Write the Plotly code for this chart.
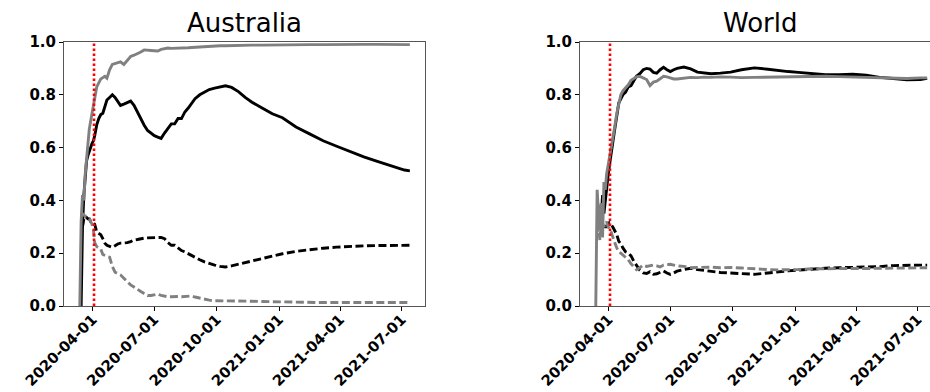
import pandas as pd
import plotly.graph_objects as go

# ---------------- data (days offset from 2020-04-01) ----------------
base_date = "2020-04-01"
marker_date = "2020-04-03"
tick_dates = ["2020-04-01", "2020-07-01", "2020-10-01", "2021-01-01", "2021-04-01", "2021-07-01"]
y_ticks = [0.0, 0.2, 0.4, 0.6, 0.8, 1.0]
titles = ["Australia", "World"]

au_day = [-19, -17, -15, -13, -11, -9, -7, -5, -3, -1, 1, 3, 6, 9, 12, 15, 18, 21, 25, 29,
          33, 37, 41, 46, 51, 56, 61, 66, 71, 76, 81, 86, 91, 96, 101, 106, 111, 116, 121, 126,
          131, 136, 141, 146, 151, 158, 165, 172, 180, 188, 196, 205, 215, 225, 235, 250, 265,
          280, 300, 320, 340, 360, 380, 400, 420, 440, 460, 468]
au_black = [None, 0.0, 0.30, 0.42, 0.50, 0.55, 0.57, 0.59, 0.60, 0.615, 0.625, 0.645, 0.686, 0.71, 0.725,
            0.73, 0.76, 0.78, 0.79, 0.80, 0.79, 0.775, 0.76, 0.765, 0.772, 0.776, 0.76, 0.735, 0.705,
            0.685, 0.665, 0.655, 0.645, 0.64, 0.635, 0.655, 0.675, 0.69, 0.69, 0.71, 0.71, 0.735, 0.75,
            0.77, 0.785, 0.80, 0.81, 0.82, 0.825, 0.83, 0.834, 0.828, 0.812, 0.79, 0.772, 0.75, 0.728,
            0.713, 0.678, 0.652, 0.626, 0.605, 0.584, 0.565, 0.548, 0.532, 0.515, 0.512]
au_gray = [0.0, 0.32, 0.42, 0.40, 0.50, 0.56, 0.63, 0.67, 0.70, 0.73, 0.76, 0.78, 0.83, 0.845, 0.86,
           0.865, 0.87, 0.863, 0.895, 0.915, 0.918, 0.922, 0.925, 0.915, 0.93, 0.945, 0.95, 0.955,
           0.962, 0.97, 0.97, 0.968, 0.967, 0.966, 0.972, 0.975, 0.977, 0.976, 0.976, 0.977, 0.977,
           0.978, 0.978, 0.979, 0.98, 0.981, 0.983, 0.985, 0.986, 0.986, 0.986, 0.987, 0.987, 0.987,
           0.988, 0.988, 0.989, 0.989, 0.99, 0.99, 0.99, 0.991, 0.991, 0.991, 0.991, 0.99, 0.99, 0.99]
au_black_dash = [None, None, 0.30, 0.33, 0.34, 0.335, 0.33, 0.33, 0.32, 0.32, 0.315, 0.31, 0.28, 0.275,
                 0.27, 0.255, 0.238, 0.23, 0.225, 0.222, 0.228, 0.235, 0.238, 0.238, 0.24, 0.244, 0.25,
                 0.252, 0.255, 0.257, 0.258, 0.258, 0.26, 0.26, 0.26, 0.255, 0.24, 0.23, 0.23, 0.22,
                 0.21, 0.205, 0.198, 0.19, 0.183, 0.175, 0.167, 0.16, 0.155, 0.15, 0.148, 0.152, 0.158,
                 0.165, 0.172, 0.18, 0.19, 0.198, 0.207, 0.214, 0.219, 0.223, 0.226, 0.228, 0.229, 0.23,
                 0.23, 0.23]
au_gray_dash = [None, 0.34, 0.35, 0.345, 0.34, 0.34, 0.335, 0.33, 0.32, 0.31, 0.29, 0.24, 0.225, 0.22,
                0.215, 0.195, 0.19, 0.188, 0.185, 0.15, 0.128, 0.122, 0.118, 0.105, 0.092, 0.08, 0.072,
                0.065, 0.055, 0.047, 0.04, 0.04, 0.043, 0.045, 0.04, 0.037, 0.035, 0.035, 0.036, 0.036,
                0.035, 0.036, 0.038, 0.038, 0.034, 0.03, 0.025, 0.022, 0.02, 0.02, 0.02, 0.019, 0.018,
                0.018, 0.018, 0.017, 0.016, 0.016, 0.015, 0.014, 0.013, 0.013, 0.013, 0.013, 0.013,
                0.013, 0.013, 0.013]

wd_day = [-19, -17, -15, -13, -11, -9, -7, -5, -3, -1, 1, 3, 6, 9, 12, 15, 18, 21, 25, 29,
          33, 37, 41, 46, 51, 56, 61, 66, 71, 76, 81, 86, 91, 96, 101, 111, 121, 131, 141, 151,
          165, 180, 196, 215, 235, 250, 265, 280, 300, 320, 340, 360, 380, 400, 420, 440, 460, 470]
wd_black = [None, None, 0.30, 0.38, 0.33, 0.42, 0.35, 0.40, 0.46, 0.49, 0.53, 0.57, 0.62, 0.67, 0.72,
            0.77, 0.785, 0.80, 0.81, 0.83, 0.835, 0.85, 0.87, 0.88, 0.895, 0.90, 0.897, 0.885, 0.882,
            0.895, 0.904, 0.895, 0.888, 0.895, 0.90, 0.905, 0.898, 0.886, 0.882, 0.88, 0.882, 0.886,
            0.895, 0.902, 0.897, 0.892, 0.888, 0.885, 0.88, 0.876, 0.876, 0.878, 0.874, 0.866, 0.862,
            0.857, 0.858, 0.862]
wd_gray = [0.0, 0.44, 0.35, 0.29, 0.39, 0.26, 0.47, 0.44, 0.50, 0.53, 0.55, 0.58, 0.62, 0.68, 0.73,
           0.77, 0.80, 0.815, 0.825, 0.838, 0.855, 0.862, 0.868, 0.87, 0.865, 0.858, 0.835, 0.848,
           0.852, 0.86, 0.87, 0.868, 0.863, 0.86, 0.86, 0.863, 0.866, 0.865, 0.867, 0.866, 0.868,
           0.867, 0.865, 0.866, 0.867, 0.866, 0.868, 0.869, 0.87, 0.87, 0.869, 0.868, 0.867, 0.866,
           0.864, 0.862, 0.864, 0.864]
wd_black_dash = [None, None, 0.30, 0.31, 0.32, 0.32, 0.31, 0.30, 0.30, 0.31, 0.315, 0.31, 0.30, 0.285,
                 0.27, 0.245, 0.235, 0.22, 0.205, 0.20, 0.19, 0.17, 0.155, 0.135, 0.125, 0.123, 0.13,
                 0.12, 0.122, 0.128, 0.133, 0.125, 0.12, 0.125, 0.132, 0.138, 0.143, 0.138, 0.134,
                 0.13, 0.127, 0.125, 0.122, 0.12, 0.125, 0.13, 0.133, 0.136, 0.14, 0.143, 0.145, 0.146,
                 0.147, 0.149, 0.153, 0.155, 0.155, 0.155]
wd_gray_dash = [None, 0.28, 0.30, 0.25, 0.31, 0.315, 0.30, 0.31, 0.32, 0.30, 0.295, 0.285, 0.26, 0.24,
                0.22, 0.205, 0.20, 0.193, 0.185, 0.175, 0.16, 0.148, 0.138, 0.145, 0.155, 0.15, 0.152,
                0.155, 0.152, 0.148, 0.155, 0.157, 0.158, 0.155, 0.152, 0.15, 0.145, 0.146, 0.147,
                0.147, 0.145, 0.146, 0.144, 0.14, 0.138, 0.137, 0.137, 0.138, 0.141, 0.142, 0.142,
                0.142, 0.142, 0.143, 0.144, 0.144, 0.145, 0.145]

# ---------------- figure ----------------
def to_dates(days):
    return pd.Timestamp(base_date) + pd.to_timedelta(days, unit="D")

W, H = 930, 392
FONT = "DejaVu Sans"
BLACK, GRAY = "#000000", "#808080"
LW = 2.9
DASH = "8px,3.5px"

fig = go.Figure()

panels = [
    (au_day, au_black, au_gray, au_black_dash, au_gray_dash, "x", "y"),
    (wd_day, wd_black, wd_gray, wd_black_dash, wd_gray_dash, "x2", "y2"),
]
for days, bs, gs, bd, gd, xa, ya in panels:
    d = to_dates(days)
    for vals, col, dash in [(bs, BLACK, "solid"), (bd, BLACK, DASH),
                            (gs, GRAY, "solid"), (gd, GRAY, DASH)]:
        fig.add_trace(go.Scatter(x=d, y=vals, mode="lines", xaxis=xa, yaxis=ya,
                                 line=dict(color=col, width=LW, dash=dash),
                                 connectgaps=False, showlegend=False, hoverinfo="skip"))

# axes geometry (pixels)
ytop, ybot = 42, 306
ydom = [(H - ybot) / H, (H - ytop) / H]
x1dom = [64 / W, 425 / W]
x2dom = [580 / W, 1.0]

xtickfont = dict(family=FONT, size=14.7, color="black", weight="bold")
ytickfont = dict(family=FONT, size=15, color="black", weight="bold")
common_x = dict(tickvals=tick_dates, tickformat="%Y-%m-%d", tickangle=-45,
                ticks="outside", ticklen=4, tickcolor="black", tickfont=xtickfont,
                ticklabelstandoff=-6,
                showgrid=False, zeroline=False, showline=True, linecolor="#555555",
                linewidth=1, mirror=True, automargin=False)
common_y = dict(range=[0, 1], tickvals=y_ticks, tickformat=".1f", ticks="outside",
                ticklen=4, tickcolor="black", tickfont=ytickfont, showgrid=False,
                zeroline=False, showline=True, linecolor="#555555", linewidth=1,
                automargin=False)

fig.update_layout(
    width=W, height=H,
    margin=dict(l=0, r=0, t=0, b=0),
    paper_bgcolor="white", plot_bgcolor="white",
    font=dict(family=FONT, color="black"),
    xaxis=dict(domain=x1dom, range=["2020-02-18 17:00", "2021-08-04 07:00"], anchor="y", **common_x),
    yaxis=dict(domain=ydom, anchor="x", mirror=True, **common_y),
    xaxis2=dict(domain=x2dom, range=["2020-02-18 17:00", "2021-07-19 05:00"], anchor="y2", **common_x),
    yaxis2=dict(domain=ydom, anchor="x2", mirror=False, **common_y),
)

for xa in ["x", "x2"]:
    fig.add_shape(type="line", xref=xa, yref=("y domain" if xa == "x" else "y2 domain"),
                  x0=marker_date, x1=marker_date, y0=0, y1=1,
                  line=dict(color="red", width=2.6, dash="2.6px,2.4px"))

fig.add_annotation(text=titles[0], xref="paper", yref="paper", x=(x1dom[0] + x1dom[1]) / 2,
                   y=ydom[1], yanchor="bottom", xanchor="center", showarrow=False, yshift=2,
                   font=dict(family=FONT, size=26, color="black"))
fig.add_annotation(text=titles[1], xref="paper", yref="paper", x=(x1dom[1] - x1dom[0]) / 2 + x2dom[0],
                   y=ydom[1], yanchor="bottom", xanchor="center", showarrow=False, yshift=2,
                   font=dict(family=FONT, size=26, color="black"))

fig.write_html("out.html", config={"displayModeBar": False},
               post_script="document.body.style.margin='0';document.body.style.overflow='hidden';")
